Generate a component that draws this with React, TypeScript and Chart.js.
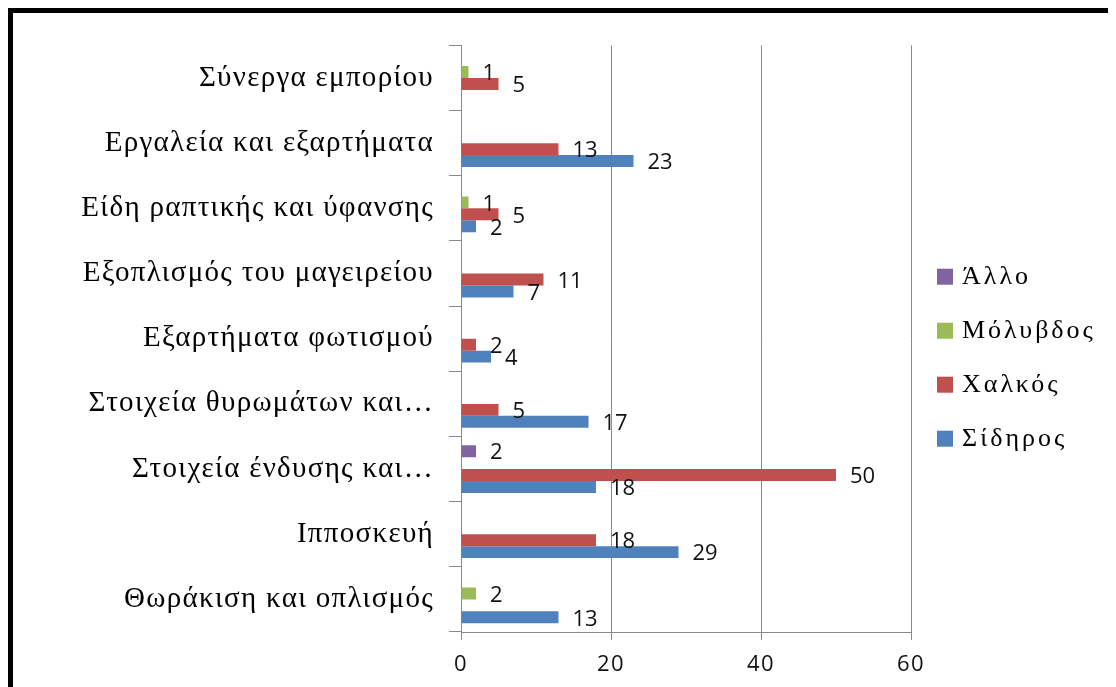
import React, { useEffect, useRef } from "react";
import { Chart, registerables } from "chart.js";

Chart.register(...registerables);

// Categories, listed top to bottom as they appear on the axis
const categories = [
  "Σύνεργα εμπορίου",
  "Εργαλεία και εξαρτήματα",
  "Είδη ραπτικής και ύφανσης",
  "Εξοπλισμός του μαγειρείου",
  "Εξαρτήματα φωτισμού",
  "Στοιχεία θυρωμάτων και…",
  "Στοιχεία ένδυσης και…",
  "Ιπποσκευή",
  "Θωράκιση και οπλισμός",
];

// Object counts per material (null = none)
const otherValues = [null, null, null, null, null, null, 2, null, null];
const leadValues = [1, null, 1, null, null, null, null, null, 2];
const copperValues = [5, 13, 5, 11, 2, 5, 50, 18, null];
const ironValues = [null, 23, 2, 7, 4, 17, 18, 29, 13];

const seriesNames = ["Άλλο", "Μόλυβδος", "Χαλκός", "Σίδηρος"];
const seriesColors = ["#8064A2", "#9BBB59", "#C0504D", "#4F81BD"];

const xMin = 0;
const xMax = 60;
const xStep = 20;

const GRID = "#8a8a8a";
const SERIF = '"Liberation Serif", "Times New Roman", serif';
const SANS = '"Open Sans", sans-serif';

// Axis labels are set slightly spaced out
const axisSpacing = {
  id: "axisSpacing",
  beforeDraw(chart: any) {
    chart.ctx.letterSpacing = "1.3px";
  },
  beforeDatasetsDraw(chart: any) {
    chart.ctx.letterSpacing = "0px";
  },
};

// Writes each bar's value just past its end
const valueLabels = {
  id: "valueLabels",
  afterDatasetsDraw(chart: any) {
    const ctx = chart.ctx;
    ctx.save();
    ctx.letterSpacing = "0px";
    ctx.font = `22px ${SANS}`;
    ctx.fillStyle = "#111";
    ctx.textAlign = "left";
    ctx.textBaseline = "middle";
    chart.data.datasets.forEach((ds: any, i: number) => {
      const meta = chart.getDatasetMeta(i);
      meta.data.forEach((bar: any, j: number) => {
        const v = ds.data[j];
        if (v == null || !isFinite(bar.x) || !isFinite(bar.y)) return;
        ctx.fillText(String(v), bar.x + 14, bar.y + 2);
      });
    });
    ctx.restore();
  },
};

// Vertical legend in the right margin, one row per series
const sideLegend = {
  id: "sideLegend",
  afterDraw(chart: any) {
    const ctx = chart.ctx;
    const area = chart.chartArea;
    const rowStep = 54;
    const box = 16;
    const n = chart.data.datasets.length;
    const x0 = area.right + 26;
    const midY = (area.top + area.bottom) / 2 + 19;
    const y0 = midY - ((n - 1) * rowStep) / 2;
    ctx.save();
    ctx.font = `26px ${SERIF}`;
    ctx.letterSpacing = "3px";
    ctx.textAlign = "left";
    ctx.textBaseline = "middle";
    chart.data.datasets.forEach((ds: any, i: number) => {
      const y = y0 + i * rowStep;
      ctx.fillStyle = ds.backgroundColor;
      ctx.fillRect(x0, y - box / 2, box, box);
      ctx.fillStyle = "#000";
      ctx.fillText(ds.label, x0 + box + 9, y);
    });
    ctx.restore();
  },
};

export default function App() {
  const canvasRef = useRef<HTMLCanvasElement | null>(null);

  useEffect(() => {
    if (!canvasRef.current) return;
    const seriesData = [otherValues, leadValues, copperValues, ironValues];
    const chart = new Chart(canvasRef.current, {
      type: "bar",
      data: {
        labels: categories,
        datasets: seriesNames.map((name, i) => ({
          label: name,
          data: seriesData[i],
          backgroundColor: seriesColors[i],
          borderWidth: 0,
          barPercentage: 1,
          categoryPercentage: 0.732,
        })),
      },
      options: {
        indexAxis: "y",
        responsive: false,
        animation: false,
        layout: { padding: { top: 29, bottom: 0, left: 0, right: 205 } },
        scales: {
          x: {
            min: xMin,
            max: xMax,
            ticks: {
              stepSize: xStep,
              color: "#111",
              font: { family: SANS, size: 22 },
              padding: 12,
            },
            grid: { color: GRID, tickLength: 8 },
            border: { color: GRID },
            afterFit: (s: any) => {
              s.height = 55;
            },
          },
          y: {
            ticks: {
              color: "#000",
              font: { family: SERIF, size: 29 },
              padding: 15,
              autoSkip: false,
            },
            grid: { drawOnChartArea: false, tickLength: 12, color: GRID },
            border: { color: GRID },
            afterFit: (s: any) => {
              s.width = 448;
            },
          },
        },
        plugins: {
          legend: { display: false },
          tooltip: { enabled: false },
        },
      },
      plugins: [axisSpacing, valueLabels, sideLegend],
    });
    return () => chart.destroy();
  }, []);

  return (
    <div
      style={{
        width: 1108,
        height: 679,
        boxSizing: "border-box",
        borderTop: "5px solid #000",
        borderLeft: "5px solid #000",
        background: "#fff",
        overflow: "hidden",
      }}
    >
      <canvas ref={canvasRef} width={1103} height={674} style={{ display: "block" }} />
    </div>
  );
}
